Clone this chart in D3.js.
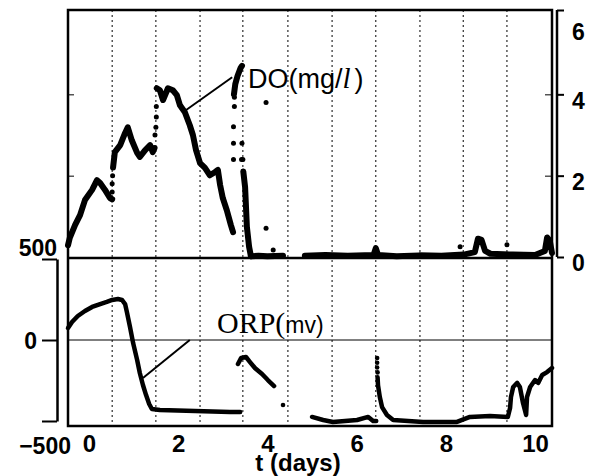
<!DOCTYPE html>
<html>
<head>
<meta charset="utf-8">
<script src="https://cdn.jsdelivr.net/npm/d3@7"></script>
<style>
  body { margin: 0; background: #fff; }
  svg { display: block; }
  text { font-family: "Liberation Sans", Arial, sans-serif; fill: #000; }
</style>
</head>
<body>
<svg id="chart"></svg>
<script>
// day labels along the bottom
var dayTicks = [0, 2, 4, 6, 8, 10]
// dotted vertical grid lines (days)
var gridDays = [0.52, 1.50, 2.49, 3.45, 4.46, 5.45, 6.43, 7.42, 8.39, 9.37]
var doTicks = [0, 2, 4, 6]
var orpTicks = [-500, 0, 500]

// DO (mg/l), [t, value]
var doMain1 = [[-0.47,0.29],[-0.43,0.47],[-0.31,0.79],[-0.2,1.03],[-0.09,1.4],[0.07,1.65],[0.18,1.89],[0.25,1.82],[0.36,1.65],[0.47,1.45],[0.52,1.42]]
var doMain2 = [[0.54,2.2],[0.58,2.58],[0.7,2.75],[0.81,3.05],[0.87,3.19],[0.96,2.87],[1.08,2.56],[1.14,2.46],[1.26,2.63],[1.37,2.75],[1.43,2.58],[1.47,2.68]]
var doMain3 = [[1.52,4.15],[1.59,4.1],[1.66,3.86],[1.77,4.15],[1.88,4.1],[1.97,3.98],[2.04,3.73],[2.15,3.56],[2.26,3.24],[2.33,3.0],[2.4,2.63],[2.49,2.31],[2.6,2.19],[2.71,2.01],[2.83,2.09],[2.89,2.14],[2.94,1.77],[3.0,1.45],[3.09,1.15],[3.18,0.79],[3.23,0.61]]
var doSpike = [[3.25,4.0],[3.28,4.25],[3.33,4.45],[3.4,4.65],[3.43,4.7]]
var doDrop = [[3.46,2.1],[3.5,1.72],[3.52,1.23],[3.54,0.74],[3.59,0.25],[3.63,0.02]]
var doBase1 = [[3.63,0.02],[3.8,0.03],[4.0,0.02],[4.35,0.03]]
var doBase2 = [[4.84,0.03],[5.3,0.05],[5.8,0.03],[6.38,0.05],[6.43,0.22],[6.48,0.05],[6.9,0.02],[7.4,0.04],[7.9,0.03],[8.4,0.06],[8.65,0.12],[8.72,0.45],[8.8,0.42],[8.88,0.15],[9.0,0.08],[9.5,0.06],[10.0,0.05],[10.22,0.15],[10.27,0.48],[10.33,0.4],[10.38,0.1]]
var doDots = [[0.52,1.6],[0.52,1.8],[0.53,2.0],[1.48,3.0],[1.5,3.19],[1.51,3.44],[1.51,3.7],
  [3.24,2.4],[3.24,2.8],[3.24,3.2],[3.26,3.7],[3.26,3.93],[3.43,2.8],[3.42,2.4],[3.45,2.4],
  [3.97,3.8],[3.97,0.71],[4.13,0.17],[8.32,0.25],[9.37,0.3]]

// ORP (mv), [t, value]
var orp1 = [[-0.47,74],[-0.38,111],[-0.25,148],[-0.09,179],[0.07,204],[0.25,222],[0.4,235],[0.52,247],[0.65,253],[0.74,247],[0.81,222],[0.85,173],[0.92,80],[0.99,-19],[1.08,-123],[1.14,-204],[1.21,-278],[1.28,-340],[1.35,-395],[1.41,-426],[1.59,-432],[2.38,-438],[3.16,-444],[3.39,-444]]
var orp2 = [[3.34,-148],[3.41,-111],[3.52,-105],[3.61,-136],[3.72,-173],[3.88,-210],[4.01,-247],[4.15,-284]]
var orp3 = [[5.0,-475],[5.25,-494],[5.47,-506],[6.01,-494],[6.26,-475],[6.37,-500],[6.44,-500]]
var orp4 = [[6.47,-230],[6.48,-280],[6.52,-352],[6.57,-414],[6.68,-463],[6.82,-494],[7.49,-506],[8.25,-506],[8.54,-475],[8.99,-469],[9.39,-475],[9.44,-420],[9.46,-352],[9.51,-290],[9.6,-265],[9.66,-290],[9.73,-389],[9.8,-463],[9.82,-352],[9.89,-290],[10.0,-247],[10.07,-265],[10.16,-216],[10.27,-198],[10.38,-173]]
var orpDots = [[4.35,-401],[6.46,-111],[6.46,-140],[6.46,-170],[6.47,-200]]

// annotation leader lines: [curve point, label point]
var doLeader = [[2.17,3.61],[3.21,4.42]]
var orpLeader = [[1.21,-235],[2.26,0]]

var width = 597, height = 476
var box = {left: 68, right: 552, top: 10, bottom: 426, mid: 258}

var svg = d3.select("#chart").attr("width", width).attr("height", height)

var xScale = d3.scaleLinear().domain([-0.47, 10.38]).range([box.left, box.right])
var yDO = d3.scaleLinear().domain([0, 6]).range([257, 13])
var yORP = d3.scaleLinear().domain([-500, 500]).range([421, 259])

var doLine = d3.line().x(d => xScale(d[0])).y(d => yDO(d[1]))
var orpLine = d3.line().x(d => xScale(d[0])).y(d => yORP(d[1]))

// grid lines
svg.append("g").selectAll("line")
  .data(gridDays).enter().append("line")
  .attr("x1", d => xScale(d)).attr("x2", d => xScale(d))
  .attr("y1", box.top).attr("y2", box.bottom)
  .attr("stroke", "#000").attr("stroke-width", 1)
  .attr("stroke-dasharray", "2,3")

// ORP zero line
svg.append("line")
  .attr("x1", box.left).attr("x2", box.right)
  .attr("y1", yORP(0)).attr("y2", yORP(0))
  .attr("stroke", "#000").attr("stroke-width", 1)

// panel divider
svg.append("line")
  .attr("x1", box.left).attr("x2", box.right)
  .attr("y1", box.mid).attr("y2", box.mid)
  .attr("stroke", "#000").attr("stroke-width", 2.5)

// frame
svg.append("rect")
  .attr("x", box.left).attr("y", box.top)
  .attr("width", box.right - box.left).attr("height", box.bottom - box.top)
  .attr("fill", "none").attr("stroke", "#000").attr("stroke-width", 2.5)

// DO lines
var doSegs = [doMain1, doMain2, doMain3, doSpike, doDrop, doBase1, doBase2]
svg.append("g").selectAll("path")
  .data(doSegs).enter().append("path")
  .attr("d", d => doLine(d))
  .attr("fill", "none").attr("stroke", "#000")
  .attr("stroke-width", 6).attr("stroke-linejoin", "round").attr("stroke-linecap", "round")

svg.append("g").selectAll("circle")
  .data(doDots).enter().append("circle")
  .attr("cx", d => xScale(d[0])).attr("cy", d => yDO(d[1])).attr("r", 2.5)

// ORP lines
var orpSegs = [orp1, orp2, orp3, orp4]
svg.append("g").selectAll("path")
  .data(orpSegs).enter().append("path")
  .attr("d", d => orpLine(d))
  .attr("fill", "none").attr("stroke", "#000")
  .attr("stroke-width", 4.5).attr("stroke-linejoin", "round").attr("stroke-linecap", "round")

svg.append("g").selectAll("circle")
  .data(orpDots).enter().append("circle")
  .attr("cx", d => xScale(d[0])).attr("cy", d => yORP(d[1])).attr("r", 2.3)

// inner ticks of the DO scale on both frame edges
svg.append("g").attr("transform", "translate(" + box.left + ",0)")
  .call(d3.axisRight(yDO).tickValues([2, 4]).tickSize(6).tickFormat(""))
  .call(g => g.select(".domain").remove())
svg.append("g").attr("transform", "translate(" + box.right + ",0)")
  .call(d3.axisLeft(yDO).tickValues([2, 4]).tickSize(7).tickFormat(""))
  .call(g => g.select(".domain").remove())

// right DO axis
var rightAxis = svg.append("g").attr("transform", "translate(557,0)")
  .call(d3.axisRight(yDO).tickValues(doTicks).tickSize(7).tickSizeOuter(0).tickFormat(d3.format("d")))
rightAxis.select(".domain").attr("d", "M0," + 10 + "V" + 257).attr("stroke-width", 2.5)
rightAxis.selectAll(".tick line").attr("stroke-width", 2)
rightAxis.selectAll(".tick").filter(d => d == 6).select("line").attr("transform", "translate(0,-3)")
rightAxis.selectAll(".tick text")
  .attr("x", 15).attr("dy", d => d == 6 ? "1.15em" : "0.6em")
  .style("font-size", "23px").style("font-weight", "bold")
  .style("font-family", "'Liberation Sans', Arial, sans-serif")

// left ORP axis
var leftAxis = svg.append("g").attr("transform", "translate(57,0)")
  .call(d3.axisLeft(yORP).tickValues(orpTicks).tickSize(15).tickSizeOuter(0)
    .tickFormat(d => d < 0 ? "\u2212" + Math.abs(d) : d))
leftAxis.select(".domain").attr("stroke-width", 2.5)
leftAxis.selectAll(".tick line").attr("stroke-width", 2)
leftAxis.selectAll(".tick text")
  .style("font-size", "23px").style("font-weight", "bold")
  .style("font-family", "'Liberation Sans', Arial, sans-serif")
  .attr("text-anchor", "end")
  .attr("x", d => d == 500 ? 0 : d == 0 ? -20 : 14)
  .attr("dy", d => d == 500 ? "-0.15em" : d == 0 ? "0.35em" : "1.42em")

// bottom day labels
var bottomAxis = svg.append("g").attr("transform", "translate(0," + box.bottom + ")")
  .call(d3.axisBottom(xScale).tickValues(dayTicks).tickSize(0))
bottomAxis.select(".domain").remove()
bottomAxis.selectAll(".tick text")
  .attr("y", 26).attr("dy", "0")
  .style("font-size", "24px").style("font-weight", "bold")
  .style("font-family", "'Liberation Sans', Arial, sans-serif")

svg.append("text")
  .attr("x", 298).attr("y", 471).attr("text-anchor", "middle")
  .style("font-size", "24px").style("font-weight", "bold")
  .text("t (days)")

// annotations
svg.append("line")
  .attr("x1", xScale(doLeader[0][0])).attr("y1", yDO(doLeader[0][1]))
  .attr("x2", xScale(doLeader[1][0])).attr("y2", yDO(doLeader[1][1]))
  .attr("stroke", "#000").attr("stroke-width", 2)

var doLabel = svg.append("text").attr("x", 248).attr("y", 88).style("font-size", "27px")
doLabel.append("tspan").text("DO(mg/")
doLabel.append("tspan").text("l").style("font-family", "'Liberation Serif', serif")
  .style("font-style", "italic").style("font-size", "29px")
doLabel.append("tspan").text(")").attr("dx", 4)

svg.append("line")
  .attr("x1", xScale(orpLeader[0][0])).attr("y1", yORP(orpLeader[0][1]))
  .attr("x2", xScale(orpLeader[1][0])).attr("y2", yORP(orpLeader[1][1]))
  .attr("stroke", "#000").attr("stroke-width", 2)

var orpLabel = svg.append("text").attr("x", 217).attr("y", 333)
orpLabel.append("tspan").text("ORP(").style("font-family", "'Liberation Serif', serif").style("font-size", "30px")
orpLabel.append("tspan").text("mv)").style("font-size", "23px")
</script>
</body>
</html>
